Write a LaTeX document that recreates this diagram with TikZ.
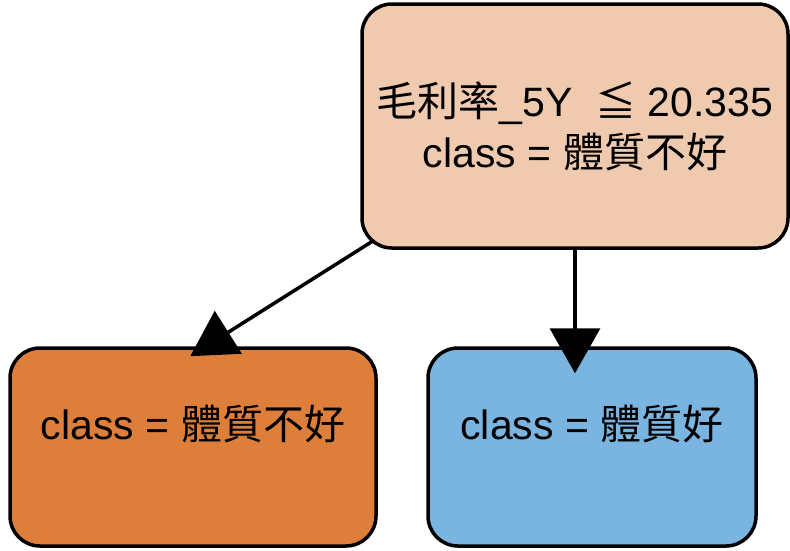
\documentclass[tikz,border=0pt]{standalone}
\usepackage{fontspec}
\setmainfont{Liberation Sans}
\newfontfamily\cjk{Noto Sans CJK TC}
\usetikzlibrary{arrows.meta}
\definecolor{rootfill}{HTML}{EFCAAE}
\definecolor{leftfill}{HTML}{DD7E3A}
\definecolor{rightfill}{HTML}{7AB4E0}
\tikzset{
  treebox/.style={draw=black, line width=3.5pt, rounded corners=30pt, align=center,
    font=\fontsize{41}{51}\selectfont, inner sep=0pt},
  arr/.style={line width=3.5pt, -{Triangle[length=45pt,width=50pt]}}
}
\begin{document}
\begin{tikzpicture}
\useasboundingbox (0,0) rectangle (790pt,-550pt);
\node[treebox, fill=rootfill, minimum width=426pt, minimum height=244pt] (root) at (575pt,-126pt)
  {{\cjk 毛利率}\_5Y\ \ {\cjk ≦} 20.335\\class = {\cjk 體質不好}};
\node[treebox, fill=leftfill, minimum width=366pt, minimum height=198pt] (left) at (193pt,-447pt)
  {class = {\cjk 體質不好}\\[-17pt]\strut};
\node[treebox, fill=rightfill, minimum width=328pt, minimum height=198pt] (right) at (592pt,-447pt)
  {class = {\cjk 體質好}\\[-17pt]\strut};
\draw[arr] ([xshift=13pt,yshift=9pt]root.south west) -- ([xshift=182pt,yshift=-10pt]left.north west);
\draw[arr] (root.south) -- ([xshift=-17pt,yshift=-27pt]right.north);
\end{tikzpicture}
\end{document}
